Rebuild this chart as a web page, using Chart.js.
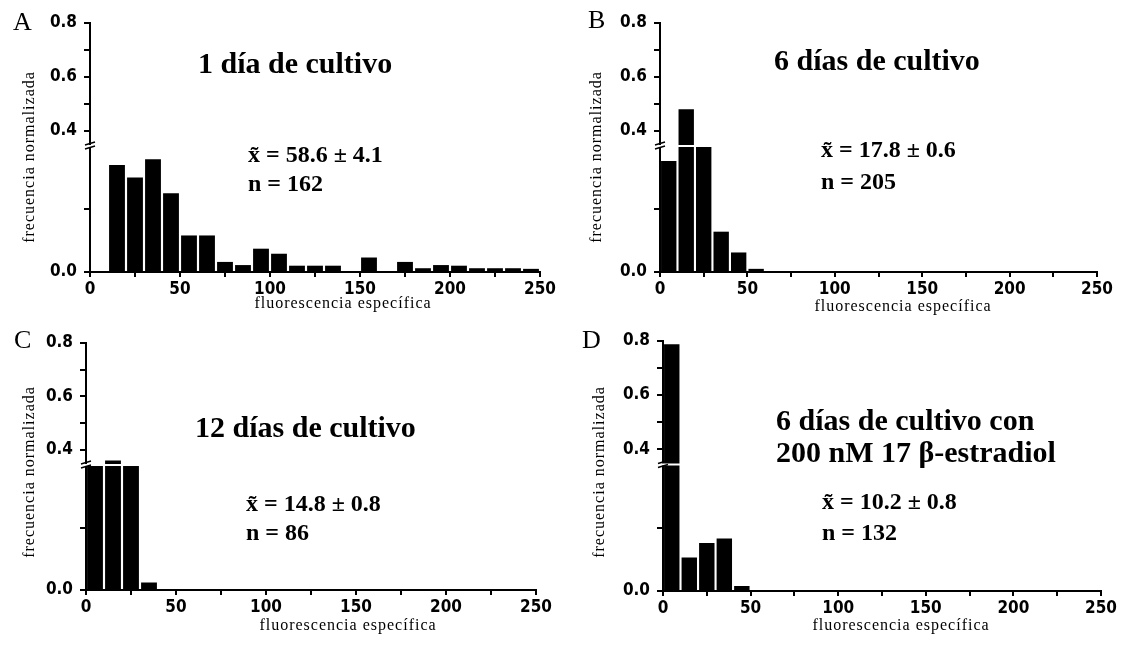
<!DOCTYPE html>
<html>
<head>
<meta charset="utf-8">
<script src="https://cdn.jsdelivr.net/npm/chart.js@4.4.1/dist/chart.umd.min.js"></script>
<style>
  html, body { margin: 0; padding: 0; background: #fff; }
  #wrap { position: relative; width: 1131px; height: 645px; overflow: hidden; }
  .panel { position: absolute; }
  .panel canvas { display: block; }
</style>
</head>
<body>
<div id="wrap">
  <div class="panel" style="left:0;top:0;width:565px;height:322px"><canvas id="chartA"></canvas></div>
  <div class="panel" style="left:565px;top:0;width:566px;height:322px"><canvas id="chartB"></canvas></div>
  <div class="panel" style="left:0;top:322px;width:565px;height:323px"><canvas id="chartC"></canvas></div>
  <div class="panel" style="left:565px;top:322px;width:566px;height:323px"><canvas id="chartD"></canvas></div>
</div>
<script>
// histogram bins (fluorescencia especifica, width 10)
const binLabels = ['0-10','10-20','20-30','30-40','40-50','50-60','60-70','70-80','80-90','90-100',
  '100-110','110-120','120-130','130-140','140-150','150-160','160-170','170-180','180-190','190-200',
  '200-210','210-220','220-230','230-240','240-250'];

// frecuencia normalizada per bin
const freqA = [0, 0.170, 0.150, 0.179, 0.125, 0.058, 0.058, 0.016, 0.011, 0.037,
  0.029, 0.010, 0.010, 0.010, 0, 0.023, 0, 0.016, 0.006, 0.011,
  0.010, 0.006, 0.006, 0.006, 0.005];
const freqB = [0.176, 0.480, 0.244, 0.064, 0.031, 0.005, 0, 0, 0, 0,
  0, 0, 0, 0, 0, 0, 0, 0, 0, 0,
  0, 0, 0, 0, 0];
const freqC = [0.314, 0.360, 0.314, 0.012, 0, 0, 0, 0, 0, 0,
  0, 0, 0, 0, 0, 0, 0, 0, 0, 0,
  0, 0, 0, 0, 0];
const freqD = [0.788, 0.053, 0.076, 0.083, 0.008, 0, 0, 0, 0, 0,
  0, 0, 0, 0, 0, 0, 0, 0, 0, 0,
  0, 0, 0, 0, 0];

// axis ticks
const xTickValues = [0, 25, 50, 75, 100, 125, 150, 175, 200, 225, 250];
const xTickLabels = ['0', '', '50', '', '100', '', '150', '', '200', '', '250'];
const yLowTicks = [0, 0.1];
const yLowLabels = ['0.0', ''];
const yHighTicks = [0.4, 0.5, 0.6, 0.7, 0.8];
const yHighLabels = ['0.4', '', '0.6', '', '0.8'];

// broken y axis: lower segment 0..0.2, upper segment ~0.343..0.8
const yLowRange = [0, 0.2];
const yHighRange = [0.343, 0.8];

const tickFamily = "'DejaVu Sans Condensed', 'DejaVu Sans', sans-serif";
const serif = "'Liberation Serif', 'Times New Roman', serif";

function labelFor(values, labels, v) {
  const i = values.findIndex(t => Math.abs(t - v) < 1e-9);
  return i < 0 ? '' : labels[i];
}

// clip each dataset to its own y segment, draw the break marks
const axisBreak = {
  id: 'axisBreak',
  beforeDatasetDraw(chart, args) {
    const ys = args.meta.yScale, a = chart.chartArea, ctx = chart.ctx;
    ctx.save();
    ctx.beginPath();
    ctx.rect(a.left, ys.top, a.right - a.left, ys.bottom - ys.top);
    ctx.clip();
  },
  afterDatasetDraw(chart) {
    chart.ctx.restore();
  },
  afterDraw(chart) {
    const ctx = chart.ctx, a = chart.chartArea;
    const yb = chart.scales.y.top;
    const ax = a.left;
    ctx.save();
    ctx.fillStyle = '#fff';
    ctx.fillRect(ax - 6, yb - 1, a.right - ax + 6, 2);
    ctx.strokeStyle = '#000';
    ctx.lineWidth = 1.5;
    ctx.beginPath();
    ctx.moveTo(ax - 5, yb - 1); ctx.lineTo(ax + 5, yb - 4);
    ctx.moveTo(ax - 5, yb + 3); ctx.lineTo(ax + 5, yb);
    ctx.stroke();
    ctx.restore();
  }
};

// panel letters, titles, stats and axis titles (page coordinates)
function textLayer(offset, items) {
  return {
    id: 'textLayer',
    afterDraw(chart) {
      const ctx = chart.ctx;
      for (const t of items) {
        ctx.save();
        ctx.font = t.font;
        ctx.fillStyle = '#000';
        ctx.textAlign = t.align || 'left';
        ctx.textBaseline = t.baseline || 'alphabetic';
        if (t.spacing) ctx.letterSpacing = t.spacing;
        ctx.translate(t.x - offset[0], t.y - offset[1]);
        if (t.rotate) ctx.rotate(t.rotate);
        ctx.fillText(t.text, 0, 0);
        ctx.restore();
      }
    }
  };
}

function makePanel(id, values, geo, items) {
  const tickGrid = { drawOnChartArea: false, drawTicks: true, tickLength: 6, color: '#000', lineWidth: 2 };
  const axisBorder = { display: true, color: '#000', width: 2 };
  const yTickStyle = { color: '#000', padding: 7, autoSkip: false, font: { family: tickFamily, size: 17, weight: 'bold' } };
  const fitY = s => { s.width = geo.yWidth; };
  const barStyle = { backgroundColor: '#000', borderWidth: 0, grouped: false,
    barPercentage: 1, categoryPercentage: 0.88, clip: false };

  return new Chart(document.getElementById(id).getContext('2d'), {
    type: 'bar',
    data: {
      labels: binLabels,
      datasets: [
        Object.assign({ data: values, xAxisID: 'x', yAxisID: 'y' }, barStyle),
        Object.assign({ data: values, xAxisID: 'x', yAxisID: 'y2' }, barStyle)
      ]
    },
    options: {
      responsive: true,
      maintainAspectRatio: false,
      animation: false,
      devicePixelRatio: 1,
      layout: { padding: geo.padding },
      plugins: { legend: { display: false }, tooltip: { enabled: false } },
      scales: {
        x: { type: 'category', display: false, offset: true },
        x2: {
          type: 'linear', position: 'bottom', min: 0, max: 250, offset: false,
          afterBuildTicks: s => { s.ticks = xTickValues.map(v => ({ value: v })); },
          afterFit: s => { s.height = 28; },
          grid: { offset: false, drawOnChartArea: false, drawTicks: true, tickLength: 5, color: '#000', lineWidth: 2 },
          border: axisBorder,
          ticks: {
            color: '#000', padding: 2, autoSkip: false, maxRotation: 0,
            font: { family: tickFamily, size: 17, weight: 'bold' },
            callback: v => labelFor(xTickValues, xTickLabels, v)
          }
        },
        y2: {
          type: 'linear', position: 'left', stack: 'freq', stackWeight: 123, weight: 1,
          min: yHighRange[0], max: yHighRange[1],
          afterBuildTicks: s => { s.ticks = yHighTicks.map(v => ({ value: v })); },
          afterFit: fitY,
          grid: tickGrid, border: axisBorder,
          ticks: Object.assign({}, yTickStyle, { callback: v => labelFor(yHighTicks, yHighLabels, v) })
        },
        y: {
          type: 'linear', position: 'left', stack: 'freq', stackWeight: 126, weight: 0,
          min: yLowRange[0], max: yLowRange[1],
          afterBuildTicks: s => { s.ticks = yLowTicks.map(v => ({ value: v })); },
          afterFit: fitY,
          grid: tickGrid, border: axisBorder,
          ticks: Object.assign({}, yTickStyle, { callback: v => labelFor(yLowTicks, yLowLabels, v) })
        }
      }
    },
    plugins: [axisBreak, textLayer(geo.offset, items)]
  });
}

const letterFont = '26px ' + serif;
const titleFont = 'bold 30px ' + serif;
const statFont = 'bold 24px ' + serif;
const axisFont = '16px ' + serif;
const yTitle = 'frecuencia normalizada';
const xTitle = 'fluorescencia específica';

function axisTitles(yx, yy, xx, xy) {
  return [
    { text: yTitle, x: yx, y: yy, font: axisFont, align: 'center', baseline: 'middle', rotate: -Math.PI / 2, spacing: '1px' },
    { text: xTitle, x: xx, y: xy, font: axisFont, align: 'center', spacing: '1px' }
  ];
}

makePanel('chartA', freqA,
  { offset: [0, 0], yWidth: 90, padding: { left: 0, top: 23, right: 25, bottom: 22 } },
  [
    { text: 'A', x: 13, y: 30, font: letterFont },
    { text: '1 día de cultivo', x: 198, y: 73, font: titleFont },
    { text: 'x̃ = 58.6 ± 4.1', x: 248, y: 162, font: statFont },
    { text: 'n = 162', x: 248, y: 191, font: statFont }
  ].concat(axisTitles(30, 157, 343, 308)));

makePanel('chartB', freqB,
  { offset: [565, 0], yWidth: 95, padding: { left: 0, top: 23, right: 34, bottom: 22 } },
  [
    { text: 'B', x: 588, y: 28, font: letterFont },
    { text: '6 días de cultivo', x: 774, y: 70, font: titleFont },
    { text: 'x̃ = 17.8 ± 0.6', x: 821, y: 157, font: statFont },
    { text: 'n = 205', x: 821, y: 189, font: statFont }
  ].concat(axisTitles(597, 157, 903, 311)));

makePanel('chartC', freqC,
  { offset: [0, 322], yWidth: 86, padding: { left: 0, top: 21, right: 29, bottom: 27 } },
  [
    { text: 'C', x: 14, y: 348, font: letterFont },
    { text: '12 días de cultivo', x: 195, y: 437, font: titleFont },
    { text: 'x̃ = 14.8 ± 0.8', x: 246, y: 511, font: statFont },
    { text: 'n = 86', x: 246, y: 540, font: statFont }
  ].concat(axisTitles(30, 472, 348, 630)));

makePanel('chartD', freqD,
  { offset: [565, 322], yWidth: 98, padding: { left: 0, top: 19, right: 30, bottom: 26 } },
  [
    { text: 'D', x: 582, y: 348, font: letterFont },
    { text: '6 días de cultivo con', x: 776, y: 430, font: titleFont },
    { text: '200 nM 17 β-estradiol', x: 776, y: 462, font: titleFont },
    { text: 'x̃ = 10.2 ± 0.8', x: 822, y: 509, font: statFont },
    { text: 'n = 132', x: 822, y: 540, font: statFont }
  ].concat(axisTitles(600, 472, 901, 630)));
</script>
</body>
</html>
